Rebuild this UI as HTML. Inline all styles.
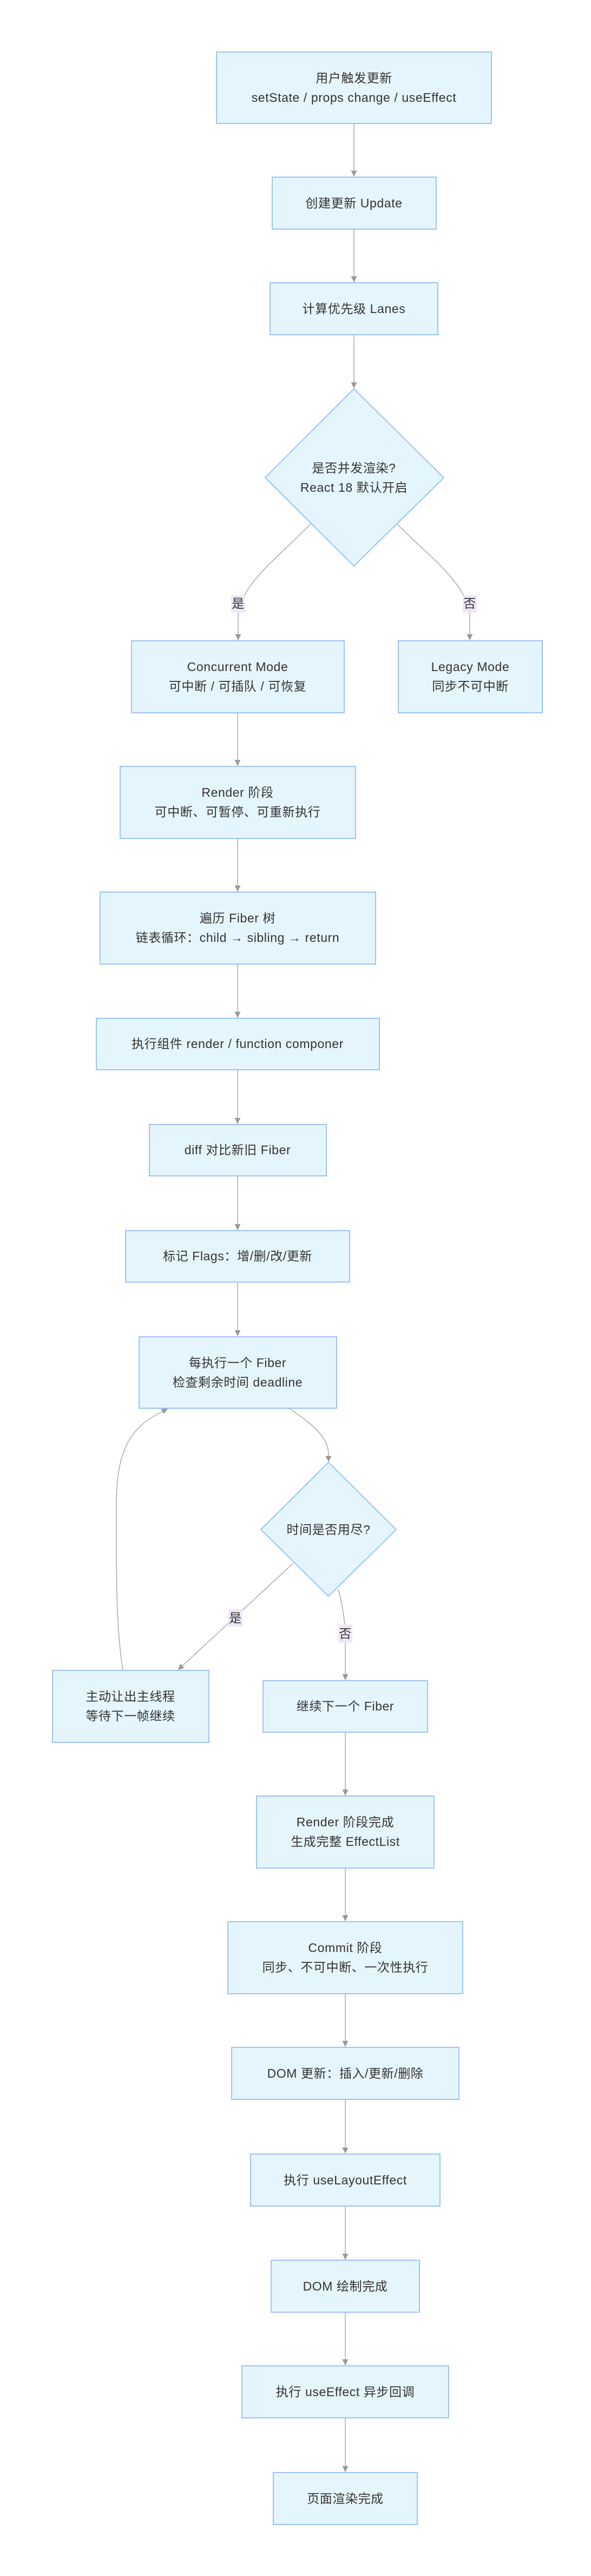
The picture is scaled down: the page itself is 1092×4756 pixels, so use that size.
<!DOCTYPE html>
<html><head><meta charset="utf-8"><style>
html,body{margin:0;padding:0;background:#fff;}
svg{display:block;}
text{font-family:"Liberation Sans","Noto Sans CJK SC",sans-serif;font-size:23px;letter-spacing:0.6px;fill:#333;}
.b{fill:#e5f5fd;stroke:#82b1f5;stroke-width:1.5;}
.l{fill:none;stroke:#aaa;stroke-width:1.5;}
.lb{fill:#efe6f8;}
</style></head><body>
<svg width="1092" height="4756" viewBox="0 0 1092 4756" xmlns="http://www.w3.org/2000/svg">
<defs><marker id="a" viewBox="0 0 10 10" refX="10" refY="5" markerWidth="11" markerHeight="11" orient="auto" markerUnits="userSpaceOnUse"><path d="M0,0L10,5L0,10z" fill="#999"/></marker></defs>
<g text-anchor="middle" dominant-baseline="central">
<!-- edges -->
<path class="l" d="M654,228V326" marker-end="url(#a)"/>
<path class="l" d="M654,423V521" marker-end="url(#a)"/>
<path class="l" d="M654,618V717" marker-end="url(#a)"/>
<path class="l" d="M575,966C520,1025 440,1080 440,1140V1182" marker-end="url(#a)"/>
<path class="l" d="M734,968C790,1025 868,1080 868,1140V1182" marker-end="url(#a)"/>
<path class="l" d="M439,1316V1414" marker-end="url(#a)"/>
<path class="l" d="M439,1548V1646" marker-end="url(#a)"/>
<path class="l" d="M439,1780V1879" marker-end="url(#a)"/>
<path class="l" d="M439,1975V2075" marker-end="url(#a)"/>
<path class="l" d="M439,2171V2271" marker-end="url(#a)"/>
<path class="l" d="M439,2367V2467" marker-end="url(#a)"/>
<path class="l" d="M534,2600C570,2625 607,2650 607,2685V2699" marker-end="url(#a)"/>
<path class="l" d="M542,2886L329,3083" marker-end="url(#a)"/>
<path class="l" d="M625,2934C632,2960 638,2990 638,3030V3102" marker-end="url(#a)"/>
<path class="l" d="M227,3084C217,3020 215,2950 215,2840V2780C215,2660 250,2630 310,2601" marker-end="url(#a)"/>
<path class="l" d="M638,3198V3315" marker-end="url(#a)"/>
<path class="l" d="M638,3449V3547" marker-end="url(#a)"/>
<path class="l" d="M638,3681V3779" marker-end="url(#a)"/>
<path class="l" d="M638,3876V3976" marker-end="url(#a)"/>
<path class="l" d="M638,4073V4172" marker-end="url(#a)"/>
<path class="l" d="M638,4269V4367" marker-end="url(#a)"/>
<path class="l" d="M638,4464V4564" marker-end="url(#a)"/>
<!-- edge labels -->
<rect class="lb" x="427" y="1099" width="26" height="32"/><text x="440" y="1114">是</text>
<rect class="lb" x="855" y="1099" width="26" height="32"/><text x="868" y="1114">否</text>
<rect class="lb" x="422" y="2971" width="26" height="32"/><text x="435" y="2987">是</text>
<rect class="lb" x="625" y="2999" width="26" height="34"/><text x="638" y="3016">否</text>
<!-- nodes -->
<rect class="b" x="400" y="96" width="508" height="132"/>
<text x="654" y="144">用户触发更新</text><text x="654" y="180">setState / props change / useEffect</text>
<rect class="b" x="503" y="327" width="303" height="96"/><text x="654" y="375">创建更新 Update</text>
<rect class="b" x="499" y="522" width="310" height="96"/><text x="654" y="570">计算优先级 Lanes</text>
<polygon class="b" points="654,718 820,882 654,1045 490,882"/>
<text x="654" y="864">是否并发渲染?</text><text x="654" y="900">React 18 默认开启</text>
<rect class="b" x="243" y="1183" width="393" height="133"/>
<text x="439" y="1231">Concurrent Mode</text><text x="439" y="1267">可中断 / 可插队 / 可恢复</text>
<rect class="b" x="736" y="1183" width="266" height="133"/>
<text x="869" y="1231">Legacy Mode</text><text x="869" y="1267">同步不可中断</text>
<rect class="b" x="222" y="1415" width="435" height="133"/>
<text x="439" y="1463">Render 阶段</text><text x="439" y="1499">可中断、可暂停、可重新执行</text>
<rect class="b" x="185" y="1647" width="509" height="133"/>
<text x="439" y="1695">遍历 Fiber 树</text><text x="439" y="1731">链表循环：child → sibling → return</text>
<rect class="b" x="178" y="1880" width="523" height="95"/>
<text x="439" y="1927">执行组件 render / function componer</text>
<rect class="b" x="276" y="2076" width="327" height="95"/><text x="439" y="2123">diff 对比新旧 Fiber</text>
<rect class="b" x="232" y="2272" width="414" height="95"/><text x="439" y="2319">标记 Flags：增/删/改/更新</text>
<rect class="b" x="257" y="2468" width="365" height="132"/>
<text x="439" y="2516">每执行一个 Fiber</text><text x="439" y="2552">检查剩余时间 deadline</text>
<polygon class="b" points="607,2700 732,2824 607,2947 482,2824"/>
<text x="607" y="2824">时间是否用尽?</text>
<rect class="b" x="97" y="3084" width="289" height="133"/>
<text x="241" y="3132">主动让出主线程</text><text x="241" y="3168">等待下一帧继续</text>
<rect class="b" x="486" y="3103" width="304" height="95"/><text x="638" y="3150">继续下一个 Fiber</text>
<rect class="b" x="474" y="3316" width="328" height="133"/>
<text x="638" y="3364">Render 阶段完成</text><text x="638" y="3400">生成完整 EffectList</text>
<rect class="b" x="421" y="3548" width="434" height="133"/>
<text x="638" y="3596">Commit 阶段</text><text x="638" y="3632">同步、不可中断、一次性执行</text>
<rect class="b" x="428" y="3780" width="420" height="96"/><text x="638" y="3828">DOM 更新：插入/更新/删除</text>
<rect class="b" x="463" y="3977" width="350" height="96"/><text x="638" y="4025">执行 useLayoutEffect</text>
<rect class="b" x="501" y="4173" width="274" height="96"/><text x="638" y="4221">DOM 绘制完成</text>
<rect class="b" x="447" y="4368" width="382" height="96"/><text x="638" y="4416">执行 useEffect 异步回调</text>
<rect class="b" x="505" y="4565" width="266" height="96"/><text x="638" y="4613">页面渲染完成</text>
</g>
</svg>
</body></html>
